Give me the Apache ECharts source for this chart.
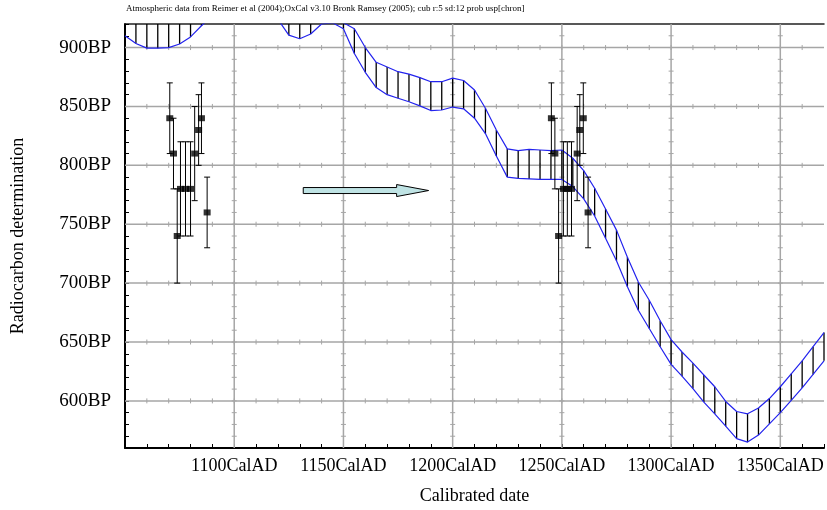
<!DOCTYPE html>
<html>
<head>
<meta charset="utf-8">
<script src="https://cdn.jsdelivr.net/npm/echarts@6/dist/echarts.min.js"></script>
<style>
  html, body { margin: 0; background: #fff; }
  #chart { width: 827px; height: 510px; }
</style>
</head>
<body>
<div id="chart"></div>
<script>
// calibration curve envelope, every 5 years (values above 920 are off the plot)
const curveYears = [1050, 1055, 1060, 1065, 1070, 1075, 1080, 1085, 1090, 1095,
  1100, 1105, 1110, 1115, 1120, 1125, 1130, 1135, 1140, 1145,
  1150, 1155, 1160, 1165, 1170, 1175, 1180, 1185, 1190, 1195,
  1200, 1205, 1210, 1215, 1220, 1225, 1230, 1235, 1240, 1245,
  1250, 1255, 1260, 1265, 1270, 1275, 1280, 1285, 1290, 1295,
  1300, 1305, 1310, 1315, 1320, 1325, 1330, 1335, 1340, 1345,
  1350, 1355, 1360, 1365, 1370]
const curveUpper = [935, 935, 934, 933, 933, 934, 936, 938, 940, 942,
  944, 944, 942, 938, 932, 926, 924, 926, 930, 929,
  921, 916, 900, 887.5, 883.5, 879.5, 877.5, 874.5, 871, 871,
  874, 872, 864, 848.5, 830, 814, 812.5, 813.5, 813, 812.5,
  813, 806, 795.5, 780.5, 763, 745, 722, 701, 685.5, 668,
  652, 641.5, 632, 622, 612, 599.5, 591, 589, 594, 602,
  612, 623, 634, 646, 658]
const curveLower = [910, 903.5, 899.5, 899.5, 900, 903, 909, 918.5, 927, 932,
  934, 934, 932, 929, 924, 910.5, 907.5, 911.5, 920, 921,
  916, 895, 879, 866, 860, 857, 854, 850.5, 846.5, 847,
  849.5, 848, 840, 827, 808, 790, 789, 788.5, 788, 788,
  788, 782, 771.5, 757, 738, 719, 697, 677, 661.5, 646,
  631, 621, 610.5, 599, 589, 578.5, 568, 565, 571, 580.5,
  590, 600.5, 611, 622.5, 634]

// radiocarbon determinations: unmatched and wiggle-matched positions
const sampleYears = [1070.5, 1072.2, 1073.9, 1075.4, 1077.7, 1080.0, 1081.9, 1083.7, 1085.0, 1087.6]
const matchedYears = [1245.2, 1246.8, 1248.5, 1250.7, 1252.5, 1254.4, 1257.0, 1258.2, 1259.8, 1262.0]
const sampleBP = [840, 810, 740, 780, 780, 780, 810, 830, 840, 760]
const sampleErr = [30, 30, 40, 40, 40, 40, 40, 30, 30, 30]

const xMajorTicks = [1100, 1150, 1200, 1250, 1300, 1350]
const yMajorTicks = [600, 650, 700, 750, 800, 850, 900]
const arrowYears = [1131.6, 1189.0]
const arrowBP = 778.6

const X_MIN = 1050, X_MAX = 1370, Y_MIN = 560, Y_MAX = 920
const serif = '"Liberation Serif", "Times New Roman", serif'
const gridColor = '#a6a6a6'

const chart = echarts.init(document.getElementById('chart'), null, { renderer: 'canvas' })

function line(x1, y1, x2, y2, stroke, lineWidth) {
  return { type: 'line', shape: { x1, y1, x2, y2 }, style: { stroke, lineWidth } }
}

const clampY = (v) => Math.max(Y_MIN, Math.min(Y_MAX, v))

chart.setOption({
  animation: false,
  title: {
    text: 'Atmospheric data from Reimer et al (2004);OxCal v3.10 Bronk Ramsey (2005); cub r:5 sd:12 prob usp[chron]',
    left: 126,
    top: 4,
    padding: 0,
    textStyle: { fontFamily: serif, fontSize: 9, fontWeight: 'normal', color: '#000' },
  },
  grid: { left: 125, right: 0, top: 24, bottom: 61 },
  xAxis: [
    {
      type: 'value',
      min: X_MIN,
      max: X_MAX,
      interval: 10,
      name: 'Calibrated date',
      nameLocation: 'middle',
      nameGap: 39,
      nameTextStyle: { fontFamily: serif, fontSize: 18, color: '#000' },
      axisLine: { lineStyle: { color: '#000', width: 2 } },
      axisTick: { inside: true, length: 4, lineStyle: { color: '#000', width: 1 } },
      axisLabel: {
        margin: 9,
        fontFamily: serif,
        fontSize: 18,
        color: '#000',
        formatter: (v) => (xMajorTicks.includes(v) ? v + 'CalAD' : ''),
      },
      splitLine: { show: false },
    },
    {
      type: 'value',
      position: 'top',
      min: X_MIN,
      max: X_MAX,
      axisLine: { show: true, lineStyle: { color: '#222', width: 1.5 } },
      axisTick: { show: false },
      axisLabel: { show: false },
      splitLine: { show: false },
    },
  ],
  yAxis: {
    type: 'value',
    min: Y_MIN,
    max: Y_MAX,
    interval: 10,
    name: 'Radiocarbon determination',
    nameLocation: 'middle',
    nameGap: 98,
    nameTextStyle: { fontFamily: serif, fontSize: 18, color: '#000' },
    axisLine: { show: true, lineStyle: { color: '#000', width: 2 } },
    axisTick: { inside: true, length: 4, lineStyle: { color: '#000', width: 1 } },
    axisLabel: {
      margin: 14,
      fontFamily: serif,
      fontSize: 19,
      color: '#000',
      formatter: (v) => (yMajorTicks.includes(v) ? v + 'BP' : ''),
    },
    splitLine: { show: false },
  },
  series: [
    {
      // vertical grid lines with cross ticks
      type: 'custom',
      silent: true,
      z: 1,
      data: xMajorTicks.map((v) => [v, Y_MIN]),
      renderItem: (params, api) => {
        const x = api.value(0)
        const top = api.coord([x, Y_MAX])
        const bottom = api.coord([x, Y_MIN])
        const children = [line(top[0], top[1], bottom[0], bottom[1], gridColor, 1.5)]
        for (let v = Y_MIN + 10; v < Y_MAX; v += 10) {
          const p = api.coord([x, v])
          children.push(line(p[0] - 2.5, p[1], p[0] + 2.5, p[1], gridColor, 1))
        }
        return { type: 'group', children }
      },
    },
    {
      // horizontal grid lines with cross ticks
      type: 'custom',
      silent: true,
      z: 1,
      data: yMajorTicks.map((v) => [X_MIN, v]),
      renderItem: (params, api) => {
        const y = api.value(1)
        const left = api.coord([X_MIN, y])
        const right = api.coord([X_MAX, y])
        const children = [line(left[0], left[1], right[0], right[1], gridColor, 1.5)]
        for (let v = X_MIN + 10; v < X_MAX; v += 10) {
          const p = api.coord([v, y])
          children.push(line(p[0], p[1] - 2.5, p[0], p[1] + 2.5, gridColor, 1))
        }
        return { type: 'group', children }
      },
    },
    {
      // hatching between the curve envelopes
      type: 'custom',
      silent: true,
      z: 3,
      data: curveYears.map((yr, i) => [yr, curveLower[i], curveUpper[i]]),
      renderItem: (params, api) => {
        const lo = clampY(api.value(1))
        const hi = clampY(api.value(2))
        if (hi - lo <= 0) return null
        const a = api.coord([api.value(0), lo])
        const b = api.coord([api.value(0), hi])
        return line(a[0], a[1], b[0], b[1], '#000', 1.3)
      },
    },
    {
      type: 'line',
      name: 'upper',
      z: 4,
      data: curveYears.map((yr, i) => [yr, curveUpper[i]]),
      showSymbol: false,
      clip: true,
      lineStyle: { color: '#2323ee', width: 1.2 },
    },
    {
      type: 'line',
      name: 'lower',
      z: 4,
      data: curveYears.map((yr, i) => [yr, curveLower[i]]),
      showSymbol: false,
      clip: true,
      lineStyle: { color: '#2323ee', width: 1.2 },
    },
    {
      // error bars for both sets of points
      type: 'custom',
      silent: true,
      z: 5,
      data: sampleYears.map((yr, i) => [yr, sampleBP[i], sampleErr[i]])
        .concat(matchedYears.map((yr, i) => [yr, sampleBP[i], sampleErr[i]])),
      renderItem: (params, api) => {
        const yr = api.value(0), bp = api.value(1), err = api.value(2)
        const a = api.coord([yr, bp + err])
        const b = api.coord([yr, bp - err])
        return {
          type: 'group',
          children: [
            line(a[0], a[1], b[0], b[1], '#000', 1),
            line(a[0] - 3, a[1], a[0] + 3, a[1], '#000', 1),
            line(b[0] - 3, b[1], b[0] + 3, b[1], '#000', 1),
          ],
        }
      },
    },
    {
      type: 'scatter',
      z: 6,
      symbol: 'rect',
      symbolSize: [7, 6],
      itemStyle: { color: '#000' },
      data: sampleYears.map((yr, i) => [yr, sampleBP[i]])
        .concat(matchedYears.map((yr, i) => [yr, sampleBP[i]])),
    },
    {
      // shift arrow
      type: 'custom',
      silent: true,
      z: 6,
      data: [[arrowYears[0], arrowBP, arrowYears[1]]],
      renderItem: (params, api) => {
        const s = api.coord([api.value(0), api.value(1)])
        const e = api.coord([api.value(2), api.value(1)])
        const headLen = 32, body = 3, head = 6
        const hx = e[0] - headLen, y = s[1]
        return {
          type: 'polygon',
          shape: {
            points: [
              [s[0], y - body], [hx, y - body], [hx, y - head], [e[0], y],
              [hx, y + head], [hx, y + body], [s[0], y + body],
            ],
          },
          style: { fill: '#bfe3e4', stroke: '#000', lineWidth: 1 },
        }
      },
    },
  ],
})
</script>
</body>
</html>
